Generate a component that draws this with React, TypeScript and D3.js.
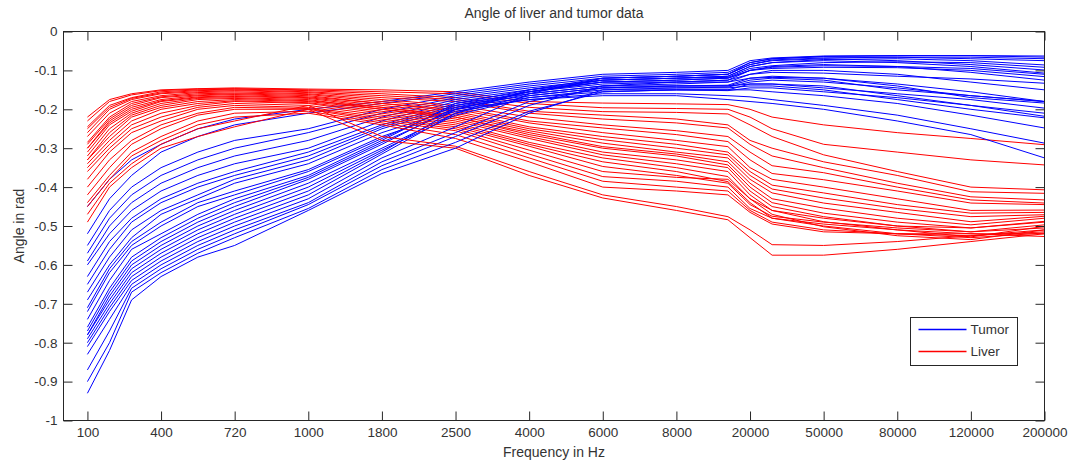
import React, { useRef, useEffect } from "react";
import * as d3 from "d3";

// frequency categories along the x axis (evenly spaced, one per tick)
const freqLabels = ["100", "400", "720", "1000", "1800", "2500", "4000", "6000", "8000", "20000", "50000", "80000", "120000", "200000"];
const yTicks = [0, -0.1, -0.2, -0.3, -0.4, -0.5, -0.6, -0.7, -0.8, -0.9, -1];

const sampleIdx = [0, 0.3, 0.6, 1, 1.5, 2, 3, 4, 5, 6, 7, 8, 8.7, 9, 9.3, 10, 11, 12, 13];

// tumor measurements, angle in rad
const tumorAngles = [
  [-0.45, -0.38, -0.33, -0.29, -0.25, -0.225, -0.2, -0.18, -0.155, -0.13, -0.11, -0.105, -0.1, -0.075, -0.068, -0.063, -0.062, -0.062, -0.063],
  [-0.52, -0.43, -0.37, -0.31, -0.27, -0.24, -0.21, -0.185, -0.16, -0.135, -0.115, -0.11, -0.105, -0.08, -0.07, -0.065, -0.066, -0.07, -0.075],
  [-0.55, -0.46, -0.4, -0.35, -0.31, -0.28, -0.25, -0.2, -0.165, -0.14, -0.12, -0.115, -0.11, -0.085, -0.075, -0.07, -0.075, -0.085, -0.099],
  [-0.57, -0.48, -0.42, -0.37, -0.33, -0.3, -0.26, -0.21, -0.17, -0.145, -0.125, -0.12, -0.115, -0.09, -0.08, -0.075, -0.08, -0.09, -0.107],
  [-0.59, -0.5, -0.44, -0.39, -0.35, -0.32, -0.28, -0.22, -0.175, -0.15, -0.13, -0.125, -0.12, -0.1, -0.09, -0.085, -0.09, -0.105, -0.125],
  [-0.6, -0.52, -0.46, -0.41, -0.37, -0.34, -0.3, -0.23, -0.18, -0.155, -0.135, -0.13, -0.125, -0.11, -0.1, -0.1, -0.11, -0.13, -0.15],
  [-0.63, -0.54, -0.48, -0.43, -0.39, -0.36, -0.31, -0.24, -0.185, -0.16, -0.14, -0.135, -0.13, -0.12, -0.118, -0.12, -0.135, -0.155, -0.18],
  [-0.65, -0.56, -0.49, -0.44, -0.4, -0.37, -0.32, -0.245, -0.19, -0.165, -0.145, -0.14, -0.14, -0.135, -0.135, -0.145, -0.16, -0.175, -0.197],
  [-0.67, -0.58, -0.51, -0.46, -0.42, -0.38, -0.33, -0.25, -0.195, -0.17, -0.155, -0.15, -0.15, -0.15, -0.155, -0.165, -0.185, -0.215, -0.248],
  [-0.69, -0.6, -0.53, -0.47, -0.43, -0.39, -0.34, -0.26, -0.2, -0.175, -0.16, -0.16, -0.165, -0.168, -0.175, -0.19, -0.215, -0.25, -0.287],
  [-0.71, -0.61, -0.54, -0.49, -0.44, -0.41, -0.355, -0.27, -0.205, -0.175, -0.165, -0.165, -0.175, -0.18, -0.185, -0.2, -0.23, -0.265, -0.325],
  [-0.72, -0.62, -0.55, -0.5, -0.45, -0.42, -0.36, -0.275, -0.19, -0.155, -0.13, -0.125, -0.12, -0.1, -0.095, -0.092, -0.093, -0.1, -0.116],
  [-0.74, -0.64, -0.56, -0.52, -0.47, -0.43, -0.37, -0.28, -0.185, -0.15, -0.125, -0.12, -0.115, -0.09, -0.08, -0.072, -0.07, -0.075, -0.086],
  [-0.76, -0.66, -0.58, -0.53, -0.48, -0.44, -0.375, -0.285, -0.2, -0.16, -0.14, -0.14, -0.14, -0.125, -0.12, -0.125, -0.15, -0.165, -0.18],
  [-0.77, -0.67, -0.59, -0.54, -0.49, -0.45, -0.38, -0.29, -0.195, -0.155, -0.13, -0.13, -0.13, -0.11, -0.105, -0.107, -0.115, -0.122, -0.133],
  [-0.78, -0.68, -0.6, -0.55, -0.5, -0.46, -0.39, -0.3, -0.21, -0.165, -0.145, -0.145, -0.145, -0.14, -0.14, -0.15, -0.175, -0.2, -0.222],
  [-0.78, -0.69, -0.61, -0.56, -0.51, -0.47, -0.4, -0.305, -0.215, -0.17, -0.15, -0.15, -0.152, -0.145, -0.145, -0.155, -0.17, -0.19, -0.218],
  [-0.79, -0.7, -0.62, -0.57, -0.52, -0.48, -0.41, -0.31, -0.2, -0.155, -0.125, -0.12, -0.118, -0.095, -0.088, -0.08, -0.078, -0.08, -0.092],
  [-0.8, -0.71, -0.63, -0.58, -0.53, -0.49, -0.42, -0.315, -0.21, -0.15, -0.12, -0.115, -0.11, -0.085, -0.073, -0.068, -0.066, -0.066, -0.07],
  [-0.81, -0.72, -0.64, -0.59, -0.54, -0.5, -0.43, -0.325, -0.245, -0.16, -0.12, -0.115, -0.11, -0.08, -0.07, -0.064, -0.062, -0.062, -0.066],
  [-0.83, -0.74, -0.65, -0.6, -0.55, -0.51, -0.44, -0.335, -0.26, -0.18, -0.145, -0.14, -0.138, -0.12, -0.115, -0.12, -0.14, -0.17, -0.184],
  [-0.87, -0.77, -0.66, -0.61, -0.56, -0.52, -0.445, -0.345, -0.27, -0.19, -0.14, -0.13, -0.125, -0.1, -0.092, -0.088, -0.09, -0.095, -0.11],
  [-0.9, -0.8, -0.67, -0.62, -0.57, -0.53, -0.455, -0.355, -0.285, -0.205, -0.155, -0.15, -0.15, -0.135, -0.135, -0.14, -0.165, -0.19, -0.21],
  [-0.93, -0.82, -0.69, -0.63, -0.58, -0.55, -0.46, -0.365, -0.3, -0.21, -0.15, -0.145, -0.143, -0.13, -0.125, -0.13, -0.145, -0.165, -0.18],
];

// liver measurements, angle in rad
const liverAngles = [
  [-0.22, -0.175, -0.16, -0.15, -0.147, -0.145, -0.148, -0.15, -0.155, -0.18, -0.184, -0.186, -0.188, -0.2, -0.22, -0.24, -0.26, -0.275, -0.291],
  [-0.23, -0.18, -0.163, -0.152, -0.148, -0.147, -0.15, -0.155, -0.16, -0.185, -0.196, -0.198, -0.2, -0.22, -0.25, -0.29, -0.31, -0.33, -0.343],
  [-0.245, -0.19, -0.17, -0.155, -0.15, -0.148, -0.152, -0.16, -0.17, -0.195, -0.206, -0.208, -0.212, -0.24, -0.27, -0.317, -0.36, -0.4, -0.407],
  [-0.25, -0.195, -0.172, -0.158, -0.152, -0.15, -0.155, -0.165, -0.175, -0.205, -0.215, -0.225, -0.24, -0.28, -0.3, -0.335, -0.37, -0.412, -0.416],
  [-0.26, -0.2, -0.175, -0.16, -0.155, -0.152, -0.157, -0.17, -0.18, -0.21, -0.225, -0.235, -0.248, -0.29, -0.32, -0.35, -0.39, -0.425, -0.433],
  [-0.27, -0.21, -0.18, -0.165, -0.157, -0.155, -0.16, -0.175, -0.19, -0.22, -0.24, -0.255, -0.27, -0.31, -0.345, -0.363, -0.4, -0.433, -0.441],
  [-0.285, -0.22, -0.185, -0.168, -0.16, -0.158, -0.162, -0.18, -0.195, -0.23, -0.248, -0.265, -0.283, -0.33, -0.365, -0.381, -0.41, -0.441, -0.445],
  [-0.29, -0.225, -0.19, -0.17, -0.163, -0.16, -0.165, -0.185, -0.2, -0.235, -0.26, -0.28, -0.296, -0.35, -0.38, -0.4, -0.43, -0.46, -0.459],
  [-0.3, -0.23, -0.195, -0.175, -0.165, -0.162, -0.168, -0.185, -0.205, -0.245, -0.27, -0.29, -0.31, -0.36, -0.395, -0.415, -0.445, -0.467, -0.465],
  [-0.3, -0.235, -0.2, -0.178, -0.168, -0.165, -0.17, -0.19, -0.21, -0.25, -0.278, -0.3, -0.317, -0.37, -0.405, -0.428, -0.455, -0.476, -0.471],
  [-0.31, -0.24, -0.205, -0.18, -0.17, -0.167, -0.172, -0.195, -0.215, -0.255, -0.287, -0.31, -0.325, -0.38, -0.415, -0.441, -0.465, -0.489, -0.475],
  [-0.32, -0.25, -0.21, -0.185, -0.172, -0.17, -0.175, -0.2, -0.22, -0.26, -0.296, -0.315, -0.335, -0.39, -0.43, -0.454, -0.48, -0.497, -0.48],
  [-0.33, -0.26, -0.215, -0.19, -0.175, -0.172, -0.178, -0.195, -0.22, -0.265, -0.3, -0.32, -0.343, -0.4, -0.44, -0.467, -0.49, -0.505, -0.488],
  [-0.33, -0.27, -0.22, -0.195, -0.18, -0.175, -0.18, -0.2, -0.225, -0.27, -0.31, -0.33, -0.35, -0.41, -0.45, -0.476, -0.5, -0.515, -0.497],
  [-0.34, -0.28, -0.23, -0.2, -0.185, -0.178, -0.183, -0.205, -0.23, -0.275, -0.317, -0.34, -0.36, -0.42, -0.46, -0.489, -0.51, -0.528, -0.501],
  [-0.35, -0.29, -0.24, -0.21, -0.19, -0.18, -0.185, -0.21, -0.235, -0.285, -0.325, -0.35, -0.373, -0.43, -0.47, -0.502, -0.525, -0.535, -0.51],
  [-0.36, -0.3, -0.25, -0.22, -0.195, -0.185, -0.19, -0.215, -0.24, -0.29, -0.335, -0.36, -0.386, -0.44, -0.48, -0.5, -0.52, -0.53, -0.518],
  [-0.38, -0.31, -0.26, -0.23, -0.2, -0.19, -0.195, -0.22, -0.245, -0.295, -0.347, -0.37, -0.39, -0.445, -0.475, -0.49, -0.505, -0.515, -0.505],
  [-0.4, -0.33, -0.28, -0.24, -0.21, -0.195, -0.198, -0.225, -0.25, -0.305, -0.36, -0.375, -0.38, -0.43, -0.46, -0.48, -0.5, -0.505, -0.49],
  [-0.42, -0.35, -0.29, -0.25, -0.215, -0.2, -0.2, -0.23, -0.255, -0.315, -0.373, -0.385, -0.4, -0.455, -0.48, -0.495, -0.51, -0.52, -0.527],
  [-0.44, -0.37, -0.31, -0.27, -0.23, -0.21, -0.205, -0.235, -0.265, -0.325, -0.385, -0.4, -0.41, -0.46, -0.49, -0.51, -0.52, -0.52, -0.52],
  [-0.45, -0.38, -0.32, -0.28, -0.24, -0.22, -0.21, -0.24, -0.275, -0.335, -0.4, -0.41, -0.42, -0.465, -0.495, -0.515, -0.52, -0.525, -0.515],
  [-0.47, -0.39, -0.34, -0.29, -0.25, -0.23, -0.19, -0.27, -0.295, -0.36, -0.42, -0.45, -0.476, -0.51, -0.548, -0.55, -0.54, -0.525, -0.51],
  [-0.49, -0.4, -0.35, -0.3, -0.27, -0.245, -0.2, -0.28, -0.3, -0.37, -0.428, -0.46, -0.484, -0.53, -0.575, -0.575, -0.56, -0.54, -0.52],
];

const legendItems = [
  { label: "Tumor", color: "#0000ff" },
  { label: "Liver", color: "#ff0000" },
];

const width = 1070;
const height = 463;
const left = 63.5;
const right = 1044.5;
const top = 31.5;
const bottom = 420.5;
const axisColor = "#262626";
const textColor = "#333";
const font = "'Liberation Sans', Arial, Helvetica, sans-serif";

export default function App() {
  const anchor = useRef<SVGSVGElement>(null);

  useEffect(() => {
    const svg = d3.select(anchor.current);
    svg.selectAll("*").remove();

    const x = d3.scaleLinear().domain([-0.325, freqLabels.length - 1]).range([left, right]);
    const y = d3.scaleLinear().domain([-1, 0]).range([bottom, top]);

    svg.append("rect").attr("width", width).attr("height", height).attr("fill", "#fff");

    // the curves, liver and tumor drawn alternately so neither colour hides the other
    const line = d3
      .line<number>()
      .x((_, i) => x(sampleIdx[i]))
      .y(d => y(d));
    const curves = svg.append("g").attr("fill", "none").attr("stroke-width", 1);
    const n = Math.max(tumorAngles.length, liverAngles.length);
    for (let i = 0; i < n; i++) {
      if (liverAngles[i]) curves.append("path").attr("d", line(liverAngles[i])).attr("stroke", legendItems[1].color);
      if (tumorAngles[i]) curves.append("path").attr("d", line(tumorAngles[i])).attr("stroke", legendItems[0].color);
    }

    // axes, ticks pointing inward on all four sides
    const styleAxis = (g: any) => {
      g.select(".domain").remove();
      g.selectAll(".tick line").attr("stroke", axisColor);
      g.selectAll(".tick text").attr("fill", textColor).attr("font-size", 13.5).attr("font-family", font);
    };
    const xTickIdx = d3.range(freqLabels.length);

    svg
      .append("g")
      .attr("transform", `translate(0,${bottom})`)
      .call(d3.axisBottom(x).tickValues(xTickIdx).tickFormat((i: any) => freqLabels[i]).tickSize(-9).tickPadding(7))
      .call(styleAxis);
    svg
      .append("g")
      .attr("transform", `translate(0,${top})`)
      .call(d3.axisTop(x).tickValues(xTickIdx).tickFormat(() => "").tickSize(-9))
      .call(styleAxis);
    svg
      .append("g")
      .attr("transform", `translate(${left},0)`)
      .call(
        d3
          .axisLeft(y)
          .tickValues(yTicks)
          .tickFormat((d: any) => (d === 0 ? "0" : d === -1 ? "-1" : "-" + Math.abs(d).toFixed(1)))
          .tickSize(-9)
          .tickPadding(6)
      )
      .call(styleAxis);
    svg
      .append("g")
      .attr("transform", `translate(${right},0)`)
      .call(d3.axisRight(y).tickValues(yTicks).tickFormat(() => "").tickSize(-9))
      .call(styleAxis);

    svg
      .append("rect")
      .attr("x", left)
      .attr("y", top)
      .attr("width", right - left)
      .attr("height", bottom - top)
      .attr("fill", "none")
      .attr("stroke", axisColor);

    const cx = (left + right) / 2;
    const label = (sel: any) =>
      sel.attr("fill", textColor).attr("font-size", 14).attr("font-family", font).attr("text-anchor", "middle");

    svg.append("text").attr("x", cx).attr("y", 18).text("Angle of liver and tumor data").call(label);
    svg.append("text").attr("x", cx).attr("y", 457).text("Frequency in Hz").call(label);
    svg
      .append("text")
      .attr("transform", `translate(24,${(top + bottom) / 2}) rotate(-90)`)
      .text("Angle in rad")
      .call(label);

    // legend
    const legend = svg.append("g").attr("transform", "translate(910.5,317.5)");
    legend
      .append("rect")
      .attr("width", 107)
      .attr("height", 48)
      .attr("fill", "#fff")
      .attr("stroke", axisColor);
    legendItems.forEach((item, i) => {
      const row = legend.append("g").attr("transform", `translate(0,${12 + i * 22})`);
      row
        .append("line")
        .attr("x1", 8)
        .attr("x2", 56)
        .attr("y1", 0)
        .attr("y2", 0)
        .attr("stroke", item.color)
        .attr("stroke-width", 1.5);
      row
        .append("text")
        .attr("x", 60)
        .attr("dy", "0.35em")
        .attr("fill", textColor)
        .attr("font-size", 13.5)
        .attr("font-family", font)
        .text(item.label);
    });
  }, []);

  return <svg ref={anchor} width={width} height={height} style={{ position: "absolute", left: 0, top: 0 }} />;
}
